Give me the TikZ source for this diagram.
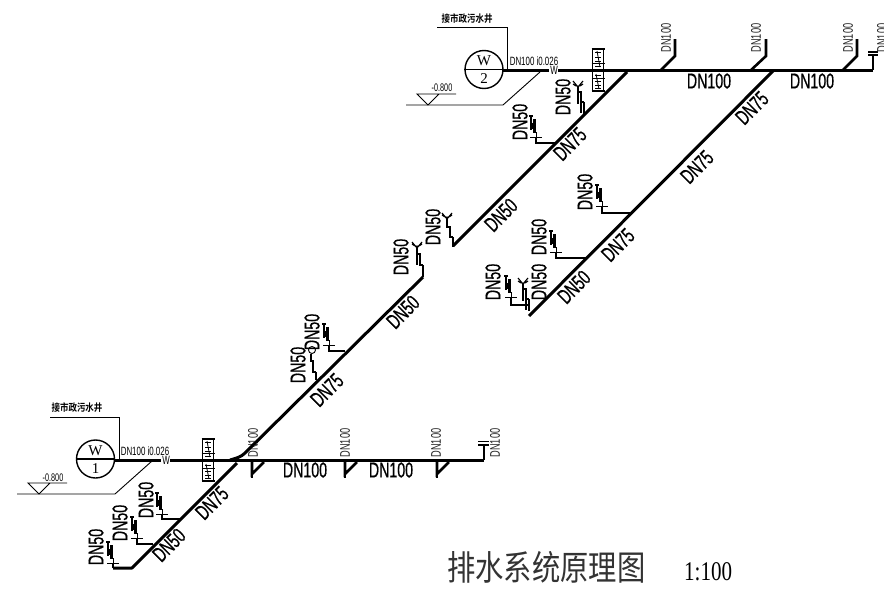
\documentclass[tikz,border=0pt]{standalone}
\usepackage{fontspec}
\setmainfont{Liberation Sans}
\newfontfamily\cad[FakeStretch=0.66]{Liberation Sans}
\newfontfamily\cadb[FakeStretch=0.66,FakeBold=0.6]{Liberation Sans}
\newfontfamily\cadserif{Liberation Serif}
\newfontfamily\cjk{Noto Sans CJK SC}
\newfontfamily\cjkb{Noto Sans CJK SC Bold}
\newcommand{\fs}[1]{\fontsize{#1}{#1}\selectfont}
\tikzset{
  x=1pt,y=-1pt,
  pipe/.style={line width=3pt,line cap=butt,line join=miter},
  riser/.style={line width=2.4pt},
  thinline/.style={line width=0.9pt},
  biglabel/.style={inner sep=0,font=\cadb\fs{21.5}},
  smalllabel/.style={inner sep=0,font=\cad\fs{14},rotate=90,text=black!85},
  seriflabel/.style={inner sep=0,font=\cadserif\fs{15}},
  well/.style={draw,circle,line width=1.4pt,minimum size=38pt,inner sep=0},
}
% floor-drain style trap with cross bar: (#1,#2) is the cross centre
\newcommand{\crosstrap}[2]{%
  \begin{scope}[shift={(#1,#2)}]
    \draw[thinline] (-6,0) -- (6,0);
    \draw[thinline] (0,3) -- (0,-5);
    \draw[line width=1.1pt] (-5,-21) -- (-5,-7) (-7,-21) -- (-3,-21);
    \draw[line width=2.4pt] (-1.4,-18) -- (-1.4,-4);
    \draw[line width=1.2pt] (-3.5,-14) -- (-3.5,-8);
  \end{scope}}
% funnel trap: (#1,#2) is the bottom of the riser
\newcommand{\funneltrap}[2]{%
  \begin{scope}[shift={(#1,#2)}]
    \draw[riser] (0,0) -- (0,-12);
    \draw[line width=1.6pt] (0,-12) -- (-3,-12) -- (-3,-1);
    \draw[line width=1.6pt] (-3,-12) -- (-3,-22) -- (-6,-22) -- (-6,-10);
    \draw[line width=1.4pt] (-6,-22) -- (-6,-27);
    \draw[line width=1.1pt] (-6,-27) -- (-11,-33) (-6,-27) -- (-1,-33) (-11,-30) .. controls (-8,-27) and (-4,-27) .. (-1,-30);
  \end{scope}}
% roof-branch triangle under the W1 pipe
\newcommand{\wye}[2]{%
  \draw[line width=2.8pt,line join=miter] (#1,#2) -- (#1,474) -- ({#1+12},462);
  \draw[line width=1.2pt] (#1,474) -- (#1,478);}
% clean-out mark on the horizontal pipe
\newcommand{\sleeve}[2]{%
  \begin{scope}[shift={(#1,#2)}]
    \draw[line width=1.1pt] (-6.5,-21) -- (6.5,-21) (-6.5,21) -- (6.5,21);
    \draw[line width=.7pt] (-6.5,-7) -- (6.5,-7) (-6.5,8) -- (6.5,8);
    \draw[line width=.7pt] (-5.5,-21) -- (-5.5,21) (5.5,-21) -- (5.5,21);
    \foreach \yy in {-18,-13,-9,-4,5,11,15,18}{\draw[line width=.9pt] (-3,\yy) -- (3,\yy);}
    \draw[line width=.8pt] (-1,-19) -- (2,-3) (-2,4) -- (1,19);
  \end{scope}}
\begin{document}
\begin{tikzpicture}
\useasboundingbox (0,0) rectangle (884,589);
\fill[white] (0,0) rectangle (884,589);

% ---- well 2
\node[well] (wellB) at (484,69.5) {};
\draw[line width=1.3pt] (wellB.west) -- (wellB.east);
\node[seriflabel] (wB) at (484,61) {W};
\node[seriflabel] (nB) at (484,78.5) {2};
\node[inner sep=0,font=\cjkb\fs{8.5},yscale=1.2] (capB) at (467,19) {接市政污水井};
\coordinate (leadB0) at (437,27);
\coordinate (leadB1) at (507,27);
\coordinate (leadB2) at (507,70);
\draw[thinline] (leadB0) -- (leadB1) -- (leadB2);
\node[inner sep=0,font=\cad\fs{12}] (slopeB) at (534,61) {DN100 i0.026};
\node[inner sep=0,font=\cad\fs{12}] (wmB) at (554,70) {W};
\coordinate (lvB0) at (406,105);
\coordinate (lvB1) at (503,105);
\coordinate (lvB2) at (540,72);
\draw[thinline] (lvB0) -- (lvB1) -- (lvB2);
\draw[thinline] (428,105) -- (417,94) -- (456,94) (428,105) -- (439,94);
\node[inner sep=0,font=\cad\fs{11}] (elB) at (442,88) {-0.800};

% ---- horizontal pipe W2
\coordinate (hB0) at (503,70);
\coordinate (hB1) at (549,70);
\coordinate (hB2) at (558,70);
\coordinate (hB3) at (873,71);
\draw[pipe] (hB0) -- (hB1);
\draw[pipe] (hB2) -- (873,70);
\draw[line width=1.6pt] (873,70) -- (873,55);
\draw[line width=1.6pt] (868,55) -- (878,55);
\draw[line width=1.6pt] (868,52) -- (878,52);
\sleeve{598}{70}

% ---- branches up from W2
\foreach \bx/\tx in {660/675,750/766,842/857}{
  \draw[line width=2.6pt] (\bx,71) -- (\tx,56) -- (\tx,39);
}
\node[smalllabel] (l1) at (666,38) {DN100};
\node[smalllabel] (l2) at (756,38) {DN100};
\node[smalllabel] (l3) at (848,38) {DN100};
\node[smalllabel] (l4) at (882,38) {DN100};
\node[biglabel] (l5) at (709,81) {DN100};
\node[biglabel] (l6) at (812,81) {DN100};

% ---- diagonal 1 of W2
\coordinate (dA0) at (627,72);
\coordinate (dA1) at (453,246);
\draw[pipe] (dA0) -- (dA1);
\node[biglabel,rotate=45] (l7) at (570,144) {DN75};
\node[biglabel,rotate=45] (l8) at (501,215) {DN50};
\draw[riser] (555,143) -- (536,143) -- (536,137);
\crosstrap{536}{137}
\node[biglabel,rotate=90] (l9) at (520,122) {DN50};
\funneltrap{584}{114}
\node[biglabel,rotate=90] (l10) at (563,97) {DN50};
\begin{scope}[shift={(453,247)}]
  \draw[riser] (0,0) -- (0,-10);
  \draw[line width=1.6pt] (0,-10) -- (-3,-10) -- (-3,-20) -- (-6,-20) -- (-6,-28);
  \draw[line width=1.1pt] (-6,-28) -- (-11,-34) (-6,-28) -- (-1,-34) (-11,-32) .. controls (-8,-29) and (-4,-29) .. (-1,-32);
\end{scope}
\node[biglabel,rotate=90] (l11) at (433,227) {DN50};

% ---- diagonal 2 of W2
\coordinate (dB0) at (773,71);
\coordinate (dB1) at (529,316);
\draw[pipe] (dB0) -- (dB1);
\node[biglabel,rotate=45] (l12) at (752,108) {DN75};
\node[biglabel,rotate=45] (l13) at (697,167) {DN75};
\node[biglabel,rotate=45] (l14) at (618,245) {DN75};
\node[biglabel,rotate=45] (l15) at (574,287) {DN50};
\draw[riser] (632,213) -- (602,213) -- (602,207);
\crosstrap{602}{206}
\node[biglabel,rotate=90] (l16) at (585,192) {DN50};
\draw[riser] (586,258) -- (556,258) -- (556,253);
\crosstrap{556}{252}
\node[biglabel,rotate=90] (l17) at (539,237) {DN50};
\draw[line width=1.9pt] (528,305) -- (511,305) -- (511,298);
\crosstrap{511}{297}
\node[biglabel,rotate=90] (l18) at (493,282) {DN50};
\funneltrap{529}{311}
\node[biglabel,rotate=90] (l19) at (539,282) {DN50};

% ---- well 1
\node[well] (wellA) at (95.5,459) {};
\draw[line width=1.3pt] (wellA.west) -- (wellA.east);
\node[seriflabel] (wA) at (95.5,451) {W};
\node[seriflabel] (nA) at (95.5,469) {1};
\node[inner sep=0,font=\cjkb\fs{8.5},yscale=1.2] (capA) at (77,408) {接市政污水井};
\coordinate (leadA0) at (50,417);
\coordinate (leadA1) at (119,417);
\coordinate (leadA2) at (119,459);
\draw[thinline] (leadA0) -- (leadA1) -- (leadA2);
\node[inner sep=0,font=\cad\fs{12}] (slopeA) at (145,451) {DN100 i0.026};
\node[inner sep=0,font=\cad\fs{12}] (wmA) at (166,460) {W};
\coordinate (lvA0) at (17,494);
\coordinate (lvA1) at (115,494);
\coordinate (lvA2) at (152,461);
\draw[thinline] (lvA0) -- (lvA1) -- (lvA2);
\draw[thinline] (39,494) -- (28,483) -- (67,483) (39,494) -- (50,483);
\node[inner sep=0,font=\cad\fs{11}] (elA) at (53,478) {-0.800};

% ---- horizontal pipe W1
\coordinate (hA0) at (115,460);
\coordinate (hA1) at (161,460);
\coordinate (hA2) at (170,460);
\coordinate (hA3) at (484,460);
\draw[pipe] (hA0) -- (hA1);
\draw[pipe] (hA2) -- (hA3);
\draw[line width=1.6pt] (484,460) -- (484,445);
\draw[line width=1.6pt] (478,445) -- (489,445);
\draw[line width=1.6pt] (478,441.5) -- (489,441.5);
\sleeve{208}{460}
\wye{252}{459}
\wye{345}{459}
\wye{437}{459}
\node[smalllabel] (l20) at (253,443) {DN100};
\node[smalllabel] (l21) at (345,443) {DN100};
\node[smalllabel] (l22) at (436,443) {DN100};
\node[smalllabel] (l23) at (495,443) {DN100};
\node[biglabel] (l24) at (305,470) {DN100};
\node[biglabel] (l25) at (391,470) {DN100};

% ---- lower diagonal of W1
\draw[pipe,line join=round] (237,463) -- (132,568) -- (113,568);
\draw[line width=1.4pt] (113,568) -- (113,563);
\crosstrap{113}{563}
\node[biglabel,rotate=90] (l26) at (96,547) {DN50};
\draw[riser] (153,544) -- (137,544) -- (137,538);
\crosstrap{137}{538}
\node[biglabel,rotate=90] (l27) at (120,523) {DN50};
\draw[line width=1.9pt] (180,519) -- (162,519) -- (162,514);
\crosstrap{162}{514}
\node[biglabel,rotate=90] (l28) at (146,500) {DN50};
\node[biglabel,rotate=45] (l29) at (212,503) {DN75};
\node[biglabel,rotate=45] (l30) at (169,545) {DN50};

% ---- main diagonal of W1
\draw[pipe] (230,460) .. controls (237,458) and (241,457) .. (245,453) -- (423,277);
\draw[riser] (423,277) -- (423,265);
\begin{scope}[shift={(423,265)}]
  \draw[line width=1.6pt] (0,0) -- (-3,0) -- (-3,-11) -- (-6,-11) -- (-6,0);
  \draw[line width=1.4pt] (-6,-11) -- (-6,-17);
  \draw[line width=1.1pt] (-6,-17) -- (-11,-23) (-6,-17) -- (-1,-23) (-11,-21) .. controls (-8,-18) and (-4,-18) .. (-1,-21);
\end{scope}
\node[biglabel,rotate=90] (l31) at (401,257) {DN50};
\node[biglabel,rotate=45] (l32) at (403,312) {DN50};
\node[biglabel,rotate=45] (l33) at (327,390) {DN75};
\draw[riser] (345,351) -- (329,351) -- (329,346);
\crosstrap{329}{345}
\node[biglabel,rotate=90] (l34) at (312,332) {DN50};
\begin{scope}[shift={(316,380)}]
  \draw[riser] (0,0) -- (0,-8);
  \draw[line width=1.6pt] (0,-8) -- (-3,-8) -- (-3,-19) -- (-5,-19) -- (-5,-26);
\end{scope}
\draw[thinline] (312,350) circle (3.5pt);
\node[biglabel,rotate=90] (l35) at (298,365) {DN50};

% ---- title
\node[inner sep=0,font=\cjk\fs{28.3},yscale=1.22,anchor=west,text=black!80] (title) at (447,567) {排水系统原理图};
\node[inner sep=0,font=\cadserif\fs{27},xscale=0.78,anchor=west] (scale) at (684,572) {1:100};
\end{tikzpicture}
\end{document}
